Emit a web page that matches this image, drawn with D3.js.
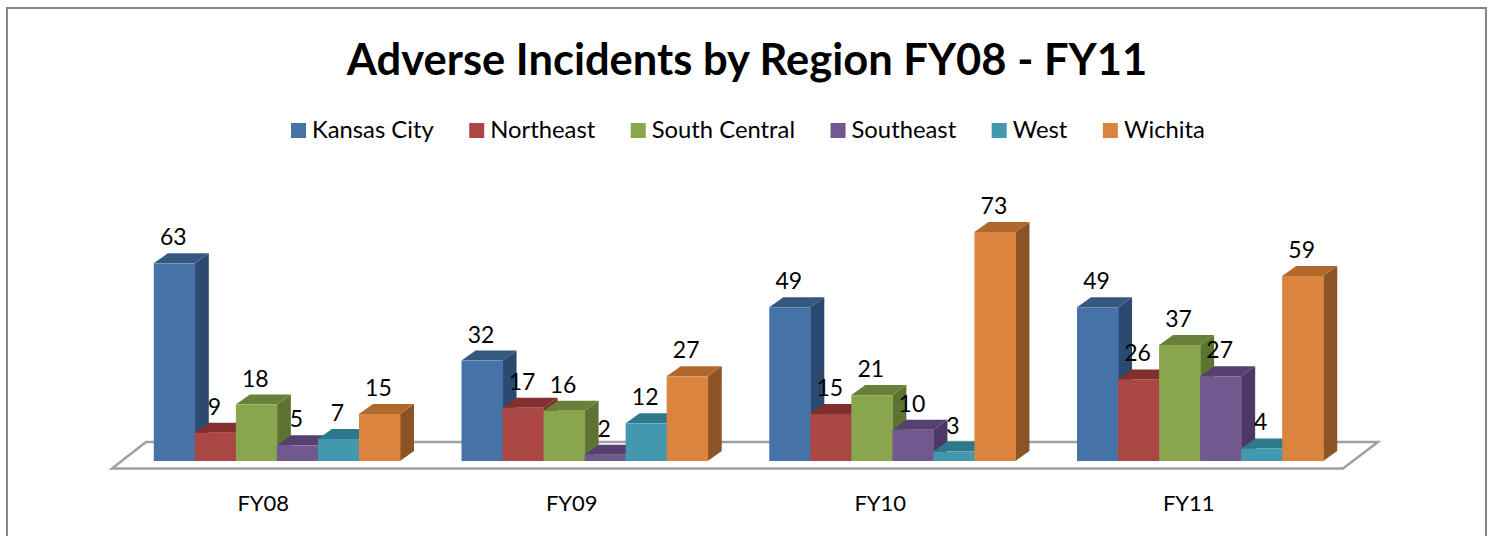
<!DOCTYPE html>
<html>
<head>
<meta charset="utf-8">
<script src="https://cdn.jsdelivr.net/npm/d3@7"></script>
<style>
    body { margin: 0; background: #fff; }
    text { font-family: Lato, "Noto Sans", sans-serif; fill: #000; }
</style>
</head>
<body>
<svg id="chart"></svg>
<script>
const title = 'Adverse Incidents by Region FY08 - FY11';
const years = ['FY08', 'FY09', 'FY10', 'FY11'];
const regions = ['Kansas City', 'Northeast', 'South Central', 'Southeast', 'West', 'Wichita'];

const kansasCity = [63, 32, 49, 49];
const northeast = [9, 17, 15, 26];
const southCentral = [18, 16, 21, 37];
const southeast = [5, 2, 10, 27];
const west = [7, 12, 3, 4];
const wichita = [15, 27, 73, 59];
const series = [kansasCity, northeast, southCentral, southeast, west, wichita];

const frontColors = ['#4572a7', '#aa4643', '#89a54e', '#71588f', '#4198af', '#db843d'];
const topColors = ['#36587f', '#832f2e', '#688039', '#56406f', '#2e788c', '#b0682c'];
const sideColors = ['#2c4a70', '#7a2c2a', '#5d7332', '#4b3864', '#276b7c', '#8c5424'];

const width = 1489, height = 536;
const depthX = 14, depthY = 10;

const svg = d3.select('#chart')
    .attr('width', width)
    .attr('height', height)
    .style('display', 'block');

// frame, open at the bottom like the cropped original
svg.append('path')
    .attr('d', d3.line()([[7, height], [7, 8], [1486, 8], [1486, height]]))
    .attr('fill', 'none')
    .attr('stroke', '#868686')
    .attr('stroke-width', 2);

svg.append('text')
    .attr('x', 747)
    .attr('y', 75)
    .attr('text-anchor', 'middle')
    .style('font-size', '43.5px')
    .style('font-weight', 700)
    .text(title);

const xscale = d3.scaleBand()
    .domain(years)
    .range([123, 1354])
    .paddingInner(0.2)
    .paddingOuter(0.1);

const xinner = d3.scaleBand()
    .domain(regions)
    .range([0, xscale.bandwidth()]);

const yscale = d3.scaleLinear()
    .domain([0, 73])
    .range([461, 232]);

// floor of the 3d box
const floorLeft = xscale.range()[0] - 11, floorRight = xscale.range()[1] - 11;
const floorFront = yscale(0) + 7.5, floorBack = yscale(0) - 19;
svg.append('path')
    .attr('d', d3.line()([
        [floorLeft, floorFront], [floorRight, floorFront],
        [floorRight + 35, floorBack], [floorLeft + 34, floorBack]
    ]) + 'Z')
    .attr('fill', '#fff')
    .attr('stroke', '#a0a0a0')
    .attr('stroke-width', 2.5);

// labels under the floor sit on a slightly wider band than the bars
const xlabels = d3.scaleBand()
    .domain(years)
    .range([109, 1343]);

const xaxis_group = svg.append('g')
    .attr('transform', `translate(0, ${yscale(0) + 31})`)
    .call(d3.axisBottom(xlabels).tickSize(0));
xaxis_group.select('.domain').remove();
xaxis_group.selectAll('text')
    .style('font-size', '22px')
    .style('font-family', 'Lato, "Noto Sans", sans-serif')
    .style('fill', '#000');

const bars = [];
years.forEach((year, i) => {
    regions.forEach((region, j) => {
        bars.push({ year, region, j, value: series[j][i] });
    });
});

const bar = svg.append('g').selectAll('g')
    .data(bars)
    .join('g');

const barX = d => xscale(d.year) + xinner(d.region);
const bw = xinner.bandwidth();

// side face
bar.append('path')
    .attr('d', d => d3.line()([
        [barX(d) + bw, yscale(d.value)],
        [barX(d) + bw + depthX, yscale(d.value) - depthY],
        [barX(d) + bw + depthX, yscale(0) - depthY],
        [barX(d) + bw, yscale(0)]
    ]) + 'Z')
    .attr('fill', d => sideColors[d.j]);

// top face
bar.append('path')
    .attr('d', d => d3.line()([
        [barX(d), yscale(d.value)],
        [barX(d) + depthX, yscale(d.value) - depthY],
        [barX(d) + bw + depthX, yscale(d.value) - depthY],
        [barX(d) + bw, yscale(d.value)]
    ]) + 'Z')
    .attr('fill', d => topColors[d.j]);

// front face
bar.append('rect')
    .attr('x', barX)
    .attr('y', d => yscale(d.value))
    .attr('width', bw + 0.5)
    .attr('height', d => yscale(0) - yscale(d.value))
    .attr('fill', d => frontColors[d.j]);

svg.append('g').selectAll('text')
    .data(bars)
    .join('text')
    .attr('x', d => barX(d) + bw / 2 - 1)
    .attr('y', d => yscale(d.value) - 18)
    .attr('text-anchor', 'middle')
    .style('font-size', '23px')
    .text(d => d.value);

// legend
let legendX = 291;
regions.forEach((region, j) => {
    svg.append('rect')
        .attr('x', legendX)
        .attr('y', 123)
        .attr('width', 15)
        .attr('height', 15)
        .attr('fill', frontColors[j]);
    const label = svg.append('text')
        .attr('x', legendX + 21)
        .attr('y', 138)
        .style('font-size', '23.8px')
        .text(region);
    legendX += 21 + label.node().getComputedTextLength() + 35.5;
});
</script>
</body>
</html>
